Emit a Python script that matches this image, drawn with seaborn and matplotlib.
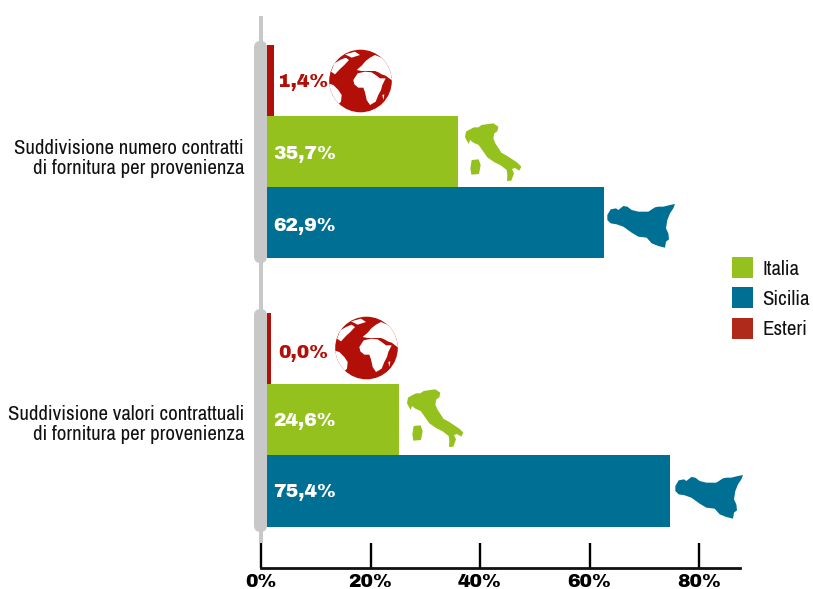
import matplotlib
matplotlib.use("Agg")
import matplotlib.pyplot as plt
import matplotlib.font_manager as fm
from matplotlib.patches import Polygon, Circle, Rectangle, FancyBboxPatch, Patch
from matplotlib.transforms import Affine2D, ScaledTranslation
import pandas as pd
import seaborn as sns

categorie = ["Suddivisione numero contratti\ndi fornitura per provenienza",
             "Suddivisione valori contrattuali\ndi fornitura per provenienza"]
esteri = [1.4, 0.7]
italia = [35.7, 24.6]
sicilia = [62.9, 75.4]
etichette_esteri = ["1,4%", "0,0%"]
etichette_italia = ["35,7%", "24,6%"]
etichette_sicilia = ["62,9%", "75,4%"]
tick_valori = [0, 20, 40, 60, 80]
tick_etichette = ["0%", "20%", "40%", "60%", "80%"]
legenda = ["Italia", "Sicilia", "Esteri"]

ROSSO, VERDE, BLU = "#B10F07", "#95C11F", "#006F94"
ROSSO_LEG = "#B02A1B"
GRIGIO = "#C8C8C8"
W, H = 813, 589

have = {f.name for f in fm.fontManager.ttflist}
def pick(*names):
    for n in names:
        if n in have:
            return n
    return "DejaVu Sans"
NARROW = pick("Archivo Narrow", "Roboto Condensed", "Liberation Sans Narrow", "Open Sans")
BLACK = pick("Archivo Black", "DejaVu Sans")

sns.set_theme(style="white")
fig = plt.figure(figsize=(W / 100, H / 100), dpi=100, facecolor="white")
PX = Affine2D().scale(1, -1).translate(0, H)

def box(l, t, r, b):
    return [l / W, 1 - b / H, (r - l) / W, (b - t) / H]

# scala dei tick
axt = fig.add_axes(box(261, 16, 740, 568), facecolor="none")
axt.set_xlim(0, (740 - 261) / 5.475)
axt.set_yticks([])
axt.set_xticks(tick_valori, tick_etichette, fontfamily=BLACK, fontsize=13.6,
               fontweight="bold" if BLACK == "DejaVu Sans" else "normal", color="black")
axt.tick_params(axis="x", direction="in", length=18, width=1.7, color="black", pad=4, bottom=True)
for s in ["top", "left", "right"]:
    axt.spines[s].set_visible(False)
axt.spines["bottom"].set_linewidth(2)
axt.spines["bottom"].set_color("#111111")

# barre
df = pd.DataFrame({
    "voce": categorie * 3,
    "provenienza": ["Esteri"] * 2 + ["Italia"] * 2 + ["Sicilia"] * 2,
    "valore": esteri + italia + sicilia,
})
ax = fig.add_axes(box(267, 16, 740, 568), facecolor="none")
sns.barplot(data=df, y="voce", x="valore", hue="provenienza",
            hue_order=["Esteri", "Italia", "Sicilia"],
            palette={"Esteri": ROSSO, "Italia": VERDE, "Sicilia": BLU},
            order=categorie, width=0.795, saturation=1, legend=False, linewidth=0, ax=ax)
ax.set_xlim(0, (740 - 267) / 5.35)
ax.set_ylim((568 - 151.75) / 268.2, (16 - 151.75) / 268.2)
ax.set_xlabel(""); ax.set_ylabel("")
ax.set_xticks([])
ax.grid(False)
for s in ax.spines.values():
    s.set_visible(False)
ax.tick_params(axis="y", length=0, pad=16.5)
for lab, dy in zip(ax.get_yticklabels(), [-4.4, -2.5]):
    lab.set_fontfamily(NARROW); lab.set_fontsize(15.05); lab.set_color("#111111")
    lab.set_multialignment("right"); lab.set_linespacing(1.07)
    lab.set_transform(lab.get_transform() + ScaledTranslation(0, dy / 100, fig.dpi_scale_trans))

# etichette
h = 0.795 / 3
FS = 13.6
for i, (d_e, d_i, d_s) in enumerate([(-1.2, -1.8, -2.6), (-3.2, -1.4, -1.0)]):
    y0 = i
    ax.annotate(etichette_esteri[i], (0, y0 - h), xytext=(8.2, d_e),
                textcoords="offset points", color=ROSSO, fontfamily=BLACK, fontsize=FS,
                va="center", ha="left")
    ax.annotate(etichette_italia[i], (0, y0), xytext=(4.3, d_i), textcoords="offset points",
                color="white", fontfamily=BLACK, fontsize=FS, va="center", ha="left")
    ax.annotate(etichette_sicilia[i], (0, y0 + h), xytext=(4.3, d_s), textcoords="offset points",
                color="white", fontfamily=BLACK, fontsize=FS, va="center", ha="left")

# asse grigio
fig.add_artist(Rectangle((258.5, 16), 4.5, 527, transform=PX, color=GRIGIO, lw=0, zorder=0))
for t, b in [(41, 263), (309, 532)]:
    fig.add_artist(FancyBboxPatch((254, t), 13, b - t, boxstyle="round,pad=0,rounding_size=6.5",
                                  transform=PX, fc=GRIGIO, ec="none", zorder=0))

# icone: sagome decorative
ITA = [(648,365),(660,358),(672,352),(685,352),(695,345),(715,342),(730,340),(745,350),(742,364),(733,370),
       (730,385),(736,400),(746,415),(754,428),(772,438),(787,448),(802,458),(814,470),(808,482),(795,474),
       (786,477),(792,490),(784,512),(771,513),(772,495),(770,480),(752,466),(732,456),(712,442),(698,422),
       (686,405),(670,398),(660,390),(656,402),(645,382)]
SAR = [(665,450),(686,448),(692,465),(687,492),(664,494),(661,475)]
SIC = [(52,75),(62,58),(78,55),(85,60),(100,48),(112,50),(125,60),(145,65),(175,65),(195,52),(205,50),(220,50),
       (240,45),(255,42),(250,55),(240,70),(232,90),(228,115),(235,130),(237,148),(228,155),(225,173),(205,168),
       (185,160),(170,143),(145,140),(125,128),(100,110),(80,103),(62,100),(52,90)]
TERRE = [
    [(85,105),(98,85),(120,80),(140,82),(152,90),(165,100),(182,100),(172,120),(168,135),(160,150),(152,170),(135,180),(125,165),(120,142),(115,128),(100,128),(88,118)],
    [(95,75),(110,62),(122,48),(135,38),(150,30),(170,38),(188,55),(198,80),(203,108),(190,98),(182,92),(170,88),(160,82),(150,78),(130,78),(110,78)],
    [(18,80),(28,55),(45,45),(62,38),(72,45),(58,60),(45,72),(30,88)],
    [(8,115),(25,120),(40,135),(50,150),(48,170),(40,178),(25,160),(12,135)],
    [(172,150),(178,148),(175,165)],
    [(60,28),(90,20),(105,30),(80,38)],
]
def add_poly(pts, ox, oy, color, z=5, clip=None):
    p = Polygon([(ox + x / 3, oy + y / 3) for x, y in pts], closed=True, transform=PX,
                fc=color, ec="none", zorder=z)
    fig.add_artist(p)
    if clip is not None:
        p.set_clip_path(clip)
for dx, dy in [(0, 0), (-58, 266)]:
    add_poly(ITA, 250 + dx, 10 + dy, VERDE)
    add_poly(SAR, 250 + dx, 10 + dy, VERDE)
for dx, dy in [(0, 0), (68, 271)]:
    add_poly(SIC, 590 + dx, 190 + dy, BLU)
for cx, cy, ox, oy in [(360.5, 81, 325, 45), (366.5, 348, 331, 312)]:
    c = Circle((cx, cy), 31.3, transform=PX, fc=ROSSO, ec="none", zorder=5)
    fig.add_artist(c)
    for t in TERRE:
        add_poly(t, ox, oy, "white", 6, clip=c)

# legenda
fs = 15.05
handles = [Patch(color=c, lw=0) for c in [VERDE, BLU, ROSSO_LEG]]
fig.legend(handles, legenda, loc="upper left", bbox_to_anchor=(732 / W, 1 - 257 / H),
           frameon=False, borderpad=0, borderaxespad=0, handlelength=1.003, handleheight=1.165,
           handletextpad=6.8 / fs, labelspacing=0.42,
           prop={"family": NARROW, "size": fs}, labelcolor="#111111")

fig.savefig("out.png", dpi=100, facecolor="white")
